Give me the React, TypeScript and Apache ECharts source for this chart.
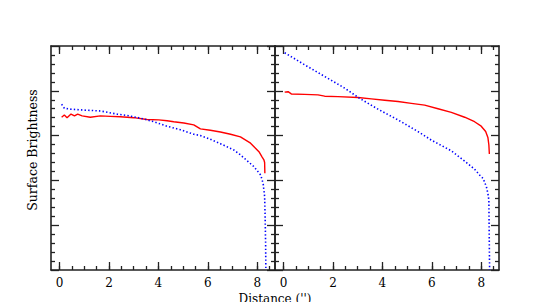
import React, { useEffect, useRef } from "react";
import * as echarts from "echarts";

const leftRedX = [0.08, 0.19, 0.3, 0.46, 0.6, 0.73, 0.91, 1.24, 1.65, 2.05, 2.46, 3.0, 3.54, 4.01, 4.35, 4.62, 5.03, 5.43, 5.7, 6.1, 6.51, 6.92, 7.32, 7.73, 8.07, 8.2, 8.27, 8.3, 8.31];
const leftRedY = [3.41, 3.46, 3.4, 3.48, 3.44, 3.48, 3.44, 3.41, 3.44, 3.43, 3.42, 3.4, 3.36, 3.35, 3.33, 3.31, 3.28, 3.24, 3.15, 3.12, 3.08, 3.03, 2.97, 2.83, 2.64, 2.52, 2.46, 2.4, 2.16];

const leftBlueX = [0.08, 0.19, 0.43, 0.97, 1.65, 2.33, 2.73, 3.27, 3.81, 4.35, 4.89, 5.43, 5.7, 6.1, 6.51, 7.05, 7.32, 7.86, 8.14, 8.24, 8.3, 8.32, 8.34, 8.35];
const leftBlueY = [3.7, 3.61, 3.59, 3.57, 3.55, 3.48, 3.45, 3.39, 3.31, 3.21, 3.13, 3.03, 3.0, 2.92, 2.82, 2.68, 2.57, 2.31, 2.12, 1.93, 1.64, 1.19, 0.6, 0.0];

const rightRedX = [0.04, 0.18, 0.31, 0.85, 1.39, 1.66, 2.2, 3.01, 3.55, 4.09, 4.63, 5.17, 5.71, 6.25, 6.79, 7.33, 7.73, 8.0, 8.18, 8.27, 8.31, 8.33];
const rightRedY = [3.97, 3.98, 3.93, 3.92, 3.91, 3.88, 3.87, 3.85, 3.82, 3.79, 3.76, 3.72, 3.68, 3.6, 3.52, 3.41, 3.31, 3.21, 3.09, 2.96, 2.79, 2.59];

const rightBlueX = [0.04, 0.85, 1.66, 2.47, 3.08, 3.82, 4.63, 5.44, 5.98, 6.79, 7.33, 7.73, 8.0, 8.07, 8.21, 8.27, 8.31, 8.32, 8.33, 8.34];
const rightBlueY = [4.85, 4.58, 4.32, 4.06, 3.83, 3.59, 3.35, 3.09, 2.9, 2.66, 2.43, 2.25, 2.08, 2.05, 1.86, 1.71, 1.56, 0.97, 0.45, 0.0];

const majorXTicks = [0, 2, 4, 6, 8];
const minorXTicks = [0, 0.5, 1, 1.5, 2, 2.5, 3, 3.5, 4, 4.5, 5, 5.5, 6, 6.5, 7, 7.5, 8, 8.5];

const xTitle = "Distance ('')";
const yTitle = "Surface Brightness";

const zip = (xs: number[], ys: number[]) => xs.map((x, i) => [x, ys[i]]);

const FRAME = "#222";
const LW = 1.6;

export default function App() {
  const ref = useRef<HTMLDivElement>(null);
  useEffect(() => {
    if (!ref.current) return;
    const chart = echarts.init(ref.current, null, { renderer: "svg" });
    const grids = [
      { left: 51, top: 46, width: 224, height: 224 },
      { left: 275, top: 46, width: 224, height: 224 },
    ];
    const xAxes: any[] = [];
    const yAxes: any[] = [];
    grids.forEach((_, g) => {
      xAxes.push({
        type: "value", gridIndex: g, position: "bottom", min: -0.35, max: 8.72,
        axisLine: { show: true, onZero: false, lineStyle: { color: FRAME, width: LW } },
        axisTick: { show: true, inside: true, length: 8, customValues: majorXTicks, lineStyle: { color: FRAME, width: 1.3 } },
        axisLabel: { show: true, customValues: majorXTicks, margin: 7, color: "#000", fontSize: 12, fontFamily: "DejaVu Serif" },
        splitLine: { show: false },
      });
      xAxes.push({
        type: "value", gridIndex: g, position: "bottom", min: -0.35, max: 8.72,
        axisLine: { show: false, onZero: false },
        axisTick: { show: true, inside: true, length: 4, customValues: minorXTicks, lineStyle: { color: FRAME, width: 1.3 } },
        axisLabel: { show: false },
        splitLine: { show: false },
      });
      xAxes.push({
        type: "value", gridIndex: g, position: "top", min: -0.35, max: 8.72,
        axisLine: { show: true, onZero: false, lineStyle: { color: FRAME, width: LW } },
        axisTick: { show: true, inside: true, length: 8, customValues: majorXTicks, lineStyle: { color: FRAME, width: 1.3 } },
        axisLabel: { show: false },
        splitLine: { show: false },
      });
      xAxes.push({
        type: "value", gridIndex: g, position: "top", min: -0.35, max: 8.72,
        axisLine: { show: false, onZero: false },
        axisTick: { show: true, inside: true, length: 4, customValues: minorXTicks, lineStyle: { color: FRAME, width: 1.3 } },
        axisLabel: { show: false },
        splitLine: { show: false },
      });
      ["left", "right"].forEach((pos) => {
        yAxes.push({
          type: "value", gridIndex: g, position: pos, min: 0, max: 5, interval: 1,
          axisLine: { show: true, onZero: false, lineStyle: { color: FRAME, width: LW } },
          axisTick: { show: true, inside: true, length: 8, lineStyle: { color: FRAME, width: 1.3 } },
          minorTick: { show: true, splitNumber: 5, length: 4, lineStyle: { color: FRAME, width: 1.3 } },
          axisLabel: { show: false },
          splitLine: { show: false },
        });
      });
    });

    const red = { color: "#ff0000", width: 1.4, type: "solid" as const };
    const blue = { color: "#0000ff", width: 1.6, type: [1.4, 2.2] as any };

    chart.setOption({
      animation: false,
      backgroundColor: "#fff",
      grid: grids,
      xAxis: xAxes,
      yAxis: yAxes,
      series: [
        { type: "line", xAxisIndex: 0, yAxisIndex: 0, data: zip(leftRedX, leftRedY), showSymbol: false, lineStyle: red },
        { type: "line", xAxisIndex: 0, yAxisIndex: 0, data: zip(leftBlueX, leftBlueY), showSymbol: false, lineStyle: blue },
        { type: "line", xAxisIndex: 4, yAxisIndex: 2, data: zip(rightRedX, rightRedY), showSymbol: false, lineStyle: red },
        { type: "line", xAxisIndex: 4, yAxisIndex: 2, data: zip(rightBlueX, rightBlueY), showSymbol: false, lineStyle: blue },
      ],
      graphic: [
        {
          type: "text", x: 32, y: 150, rotation: Math.PI / 2,
          style: { text: yTitle, fontSize: 12.5, fontFamily: "DejaVu Serif", fill: "#000", align: "center", verticalAlign: "middle" },
        },
        {
          type: "text", x: 275, y: 299,
          style: { text: xTitle, fontSize: 12, fontFamily: "DejaVu Serif", fill: "#000", align: "center", verticalAlign: "middle" },
        },
      ],
    });
    return () => chart.dispose();
  }, []);
  return <div ref={ref} style={{ position: "fixed", left: 0, top: 0, width: 545, height: 302 }} />;
}
